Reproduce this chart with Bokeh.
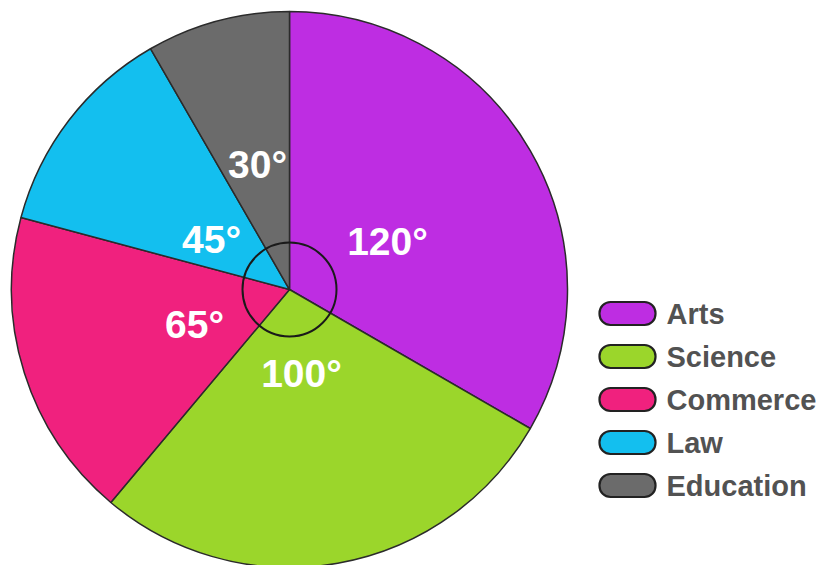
from bokeh.plotting import figure
from bokeh.models import ColumnDataSource, Range1d
from bokeh.embed import file_html
from bokeh.resources import INLINE
from bokeh.core.properties import value
import numpy as np

categories = ["Arts", "Science", "Commerce", "Law", "Education"]
degrees = [120, 100, 65, 45, 30]
colors = ["#BE2DE2", "#9BD62B", "#F0217E", "#13BFEF", "#6B6B6B"]
labels = ["120°", "100°", "65°", "45°", "30°"]

W, H = 822, 565
p = figure(width=W, height=H, output_backend="svg", toolbar_location=None,
           x_range=Range1d(0, W), y_range=Range1d(0, H), min_border=0)
p.axis.visible = False
p.grid.visible = False
p.outline_line_color = None
p.background_fill_color = "white"
p.border_fill_color = "white"

cx, cy, R = 289, 565 - 289, 278
cum = np.cumsum([0] + degrees)
start = np.radians(90 - cum[:-1])
end = np.radians(90 - cum[1:])
src = ColumnDataSource(dict(start=start, end=end, color=colors))
p.wedge(x=cx, y=cy, radius=R, start_angle="start", end_angle="end", direction="clock",
        fill_color="color", line_color="#2b2b2b", line_width=1.5, source=src)

# inner circle
p.circle(x=cx, y=cy, radius=47, fill_color=None, line_color="#1a1a1a", line_width=2)

# slice labels
lx = [387, 301, 194, 211, 257]
ly = [565 - 241, 565 - 373, 565 - 324, 565 - 239, 565 - 164]
p.text(x=lx, y=ly, text=labels, text_color="white", text_font=value("Liberation Sans"),
       text_font_style="bold", text_font_size="39px", text_align="center", text_baseline="middle")

# legend
n = len(categories)
leg_y = [565 - (313 + 43 * i) for i in range(n)]
p.quad(left=[599] * n, right=[655] * n, bottom=[y - 11.5 for y in leg_y], top=[y + 11.5 for y in leg_y],
       fill_color=colors, line_color="#222222", line_width=2.2, border_radius=11)
p.text(x=[666] * n, y=leg_y, text=categories, text_color="#525252",
       text_font=value("Liberation Sans"), text_font_style="bold", text_font_size="29px",
       text_align="left", text_baseline="middle")

open("out.html", "w").write(file_html(p, INLINE))
